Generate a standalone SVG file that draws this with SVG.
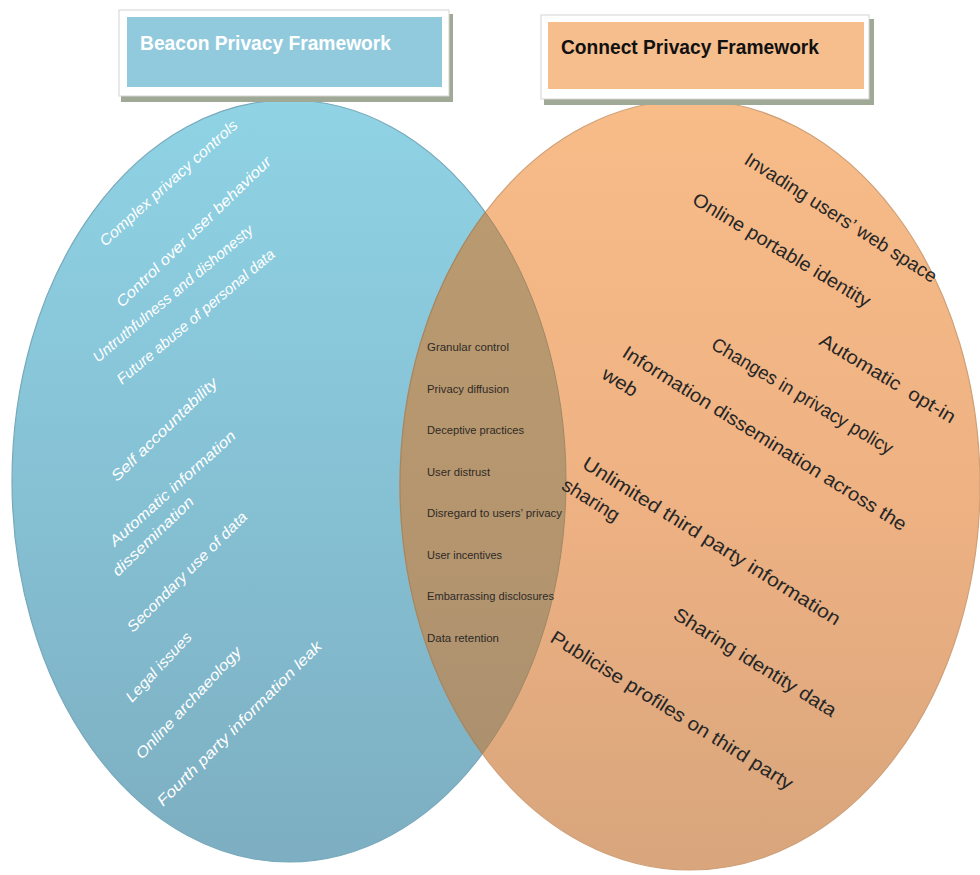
<svg xmlns="http://www.w3.org/2000/svg" width="980" height="875" viewBox="0 0 980 875">
<defs>
<linearGradient id="gBlue" x1="0" y1="0" x2="0" y2="1">
<stop offset="0" stop-color="#8fd3e5"/>
<stop offset="0.5" stop-color="#86c1d4"/>
<stop offset="1" stop-color="#7daec1"/>
</linearGradient>
<linearGradient id="gPeach" x1="0" y1="0" x2="0" y2="1">
<stop offset="0" stop-color="#f7bc88"/>
<stop offset="0.5" stop-color="#efb283"/>
<stop offset="1" stop-color="#d8a57c"/>
</linearGradient>
<linearGradient id="gTan" x1="0" y1="0" x2="0" y2="1">
<stop offset="0" stop-color="#bb9b70"/>
<stop offset="0.5" stop-color="#b6966e"/>
<stop offset="1" stop-color="#a88f70"/>
</linearGradient>
<clipPath id="clipLeft">
<ellipse cx="289" cy="481" rx="277" ry="381"/>
</clipPath>
<clipPath id="clipRight">
<ellipse cx="690" cy="485" rx="290" ry="385"/>
</clipPath>
<style>
.lt{font-family:"Liberation Sans","DejaVu Sans",sans-serif;font-style:italic;font-size:15px;fill:#ffffff}
.rt{font-family:"Liberation Sans","DejaVu Sans",sans-serif;font-size:19px;fill:#262626}
.ct{font-family:"Liberation Sans","DejaVu Sans",sans-serif;font-size:11.5px;fill:#2e2a26}
.hd{font-family:"Liberation Sans","DejaVu Sans",sans-serif;font-weight:bold;font-size:21px}
.frame{fill:#ffffff;stroke:#d4d4d4;stroke-width:1}
.shadow{fill:#9fa996}
</style>
</defs>
<rect width="980" height="875" fill="#ffffff"/>

<g id="beacon-set">
<ellipse cx="289" cy="481" rx="277" ry="381" fill="url(#gBlue)" stroke="#78a9bb" stroke-width="1.2"/>
</g>
<g id="connect-set">
<ellipse cx="690" cy="485" rx="290" ry="385" fill="url(#gPeach)" stroke="#cfa078" stroke-width="1.2"/>
</g>
<g id="overlap">
<ellipse cx="690" cy="485" rx="290" ry="385" clip-path="url(#clipLeft)" fill="url(#gTan)" stroke="#a08867" stroke-width="1.2"/>
<ellipse cx="289" cy="481" rx="277" ry="381" fill="none" stroke="#a08867" stroke-width="1" clip-path="url(#clipRight)"/>
</g>
<g id="connectors"/>

<g id="beacon-header">
<rect class="shadow" x="121" y="14" width="332" height="88"/>
<rect class="frame" x="119" y="10" width="330" height="86"/>
<rect x="127" y="17" width="315" height="70" fill="#92cadd"/>
<text class="hd" x="140" y="50" fill="#ffffff" textLength="251" lengthAdjust="spacingAndGlyphs">Beacon Privacy Framework</text>
</g>
<g id="connect-header">
<rect class="shadow" x="544" y="19" width="330" height="86"/>
<rect class="frame" x="541" y="15" width="328" height="84"/>
<rect x="548" y="22" width="316" height="67" fill="#f6bd8d"/>
<text class="hd" x="561" y="54" fill="#111111" textLength="258" lengthAdjust="spacingAndGlyphs">Connect Privacy Framework</text>
</g>

<g id="beacon-items">
<text class="lt" transform="translate(105,247) rotate(-42)" textLength="180" lengthAdjust="spacingAndGlyphs">Complex privacy controls</text>
<text class="lt" transform="translate(122,308) rotate(-44)" textLength="209" lengthAdjust="spacingAndGlyphs">Control over user behaviour</text>
<text class="lt" transform="translate(98,363) rotate(-40)" textLength="204" lengthAdjust="spacingAndGlyphs">Untruthfulness and dishonesty</text>
<text class="lt" transform="translate(122,385) rotate(-40)" textLength="201" lengthAdjust="spacingAndGlyphs">Future abuse of personal data</text>
<text class="lt" transform="translate(117,482) rotate(-44)" textLength="141" lengthAdjust="spacingAndGlyphs">Self accountability</text>
<text class="lt" transform="translate(115,547) rotate(-42)" textLength="164" lengthAdjust="spacingAndGlyphs">Automatic information</text>
<text class="lt" transform="translate(118,577) rotate(-44)" textLength="107" lengthAdjust="spacingAndGlyphs">dissemination</text>
<text class="lt" transform="translate(133,633) rotate(-45)" textLength="163" lengthAdjust="spacingAndGlyphs">Secondary use of data</text>
<text class="lt" transform="translate(132,703) rotate(-47)" textLength="89" lengthAdjust="spacingAndGlyphs">Legal issues</text>
<text class="lt" transform="translate(142,760) rotate(-47)" textLength="147" lengthAdjust="spacingAndGlyphs">Online archaeology</text>
<text class="lt" transform="translate(163,807) rotate(-45)" textLength="226" lengthAdjust="spacingAndGlyphs">Fourth party information leak</text>
</g>

<g id="shared-items">
<text class="ct" x="427" y="351" textLength="82" lengthAdjust="spacingAndGlyphs">Granular control</text>
<text class="ct" x="427" y="392.5" textLength="82" lengthAdjust="spacingAndGlyphs">Privacy diffusion</text>
<text class="ct" x="427" y="434" textLength="97" lengthAdjust="spacingAndGlyphs">Deceptive practices</text>
<text class="ct" x="427" y="475.5" textLength="63" lengthAdjust="spacingAndGlyphs">User distrust</text>
<text class="ct" x="427" y="517" textLength="135" lengthAdjust="spacingAndGlyphs">Disregard to users’ privacy</text>
<text class="ct" x="427" y="558.5" textLength="75" lengthAdjust="spacingAndGlyphs">User incentives</text>
<text class="ct" x="427" y="600" textLength="127" lengthAdjust="spacingAndGlyphs">Embarrassing disclosures</text>
<text class="ct" x="427" y="641.5" textLength="72" lengthAdjust="spacingAndGlyphs">Data retention</text>
</g>

<g id="connect-items">
<text class="rt" transform="translate(743,163) rotate(32.5)" textLength="224" lengthAdjust="spacingAndGlyphs">Invading users’ web space</text>
<text class="rt" transform="translate(691,203) rotate(31)" textLength="204" lengthAdjust="spacingAndGlyphs">Online portable identity</text>
<text class="rt" transform="translate(818,344) rotate(31)" textLength="155" lengthAdjust="spacingAndGlyphs" xml:space="preserve">Automatic  opt-in</text>
<text class="rt" transform="translate(710,348) rotate(31)" textLength="208" lengthAdjust="spacingAndGlyphs">Changes in privacy policy</text>
<text class="rt" transform="translate(621,356) rotate(32)"><tspan x="0" y="0" textLength="331" lengthAdjust="spacingAndGlyphs">Information dissemination across the</tspan><tspan x="-6" y="29" textLength="38" lengthAdjust="spacingAndGlyphs">web</tspan></text>
<text class="rt" transform="translate(581,467) rotate(32)"><tspan x="0" y="0" textLength="300" lengthAdjust="spacingAndGlyphs">Unlimited third party information</tspan><tspan x="-6" y="29" textLength="64" lengthAdjust="spacingAndGlyphs">sharing</tspan></text>
<text class="rt" transform="translate(672,618) rotate(32)" textLength="188" lengthAdjust="spacingAndGlyphs">Sharing identity data</text>
<text class="rt" transform="translate(549,641) rotate(32)" textLength="282" lengthAdjust="spacingAndGlyphs">Publicise profiles on third party</text>
</g>
</svg>
